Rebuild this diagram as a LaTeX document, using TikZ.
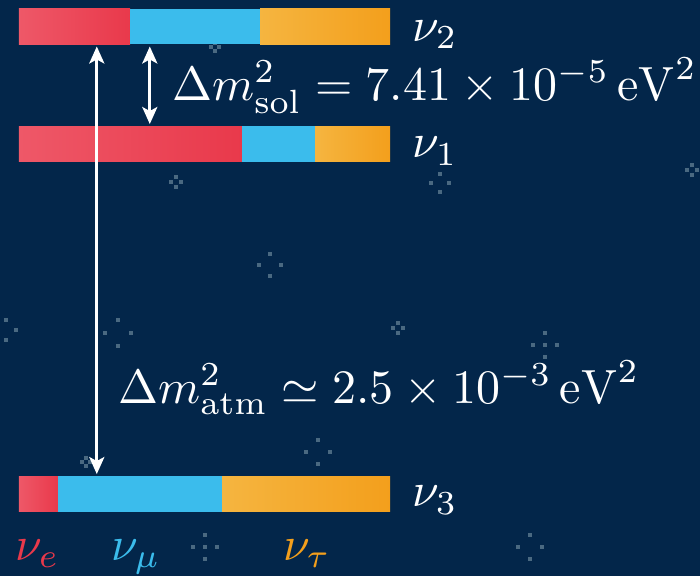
\documentclass[tikz,border=0pt]{standalone}
\usepackage{amsmath}
\usepackage{graphicx}
\usepackage{xcolor}
\usepackage{tikz}
\usetikzlibrary{arrows.meta}
\usetikzlibrary{positioning,calc}

\definecolor{bgnavy}{HTML}{03264A}
\definecolor{nured}{HTML}{E9394B}
\definecolor{nuredlt}{HTML}{EE5868}
\definecolor{nublue}{HTML}{3BBCEC}
\definecolor{nuorange}{HTML}{F39F1C}
\definecolor{nuorangelt}{HTML}{F5B540}
\definecolor{starcol}{HTML}{4A6981}

% faint pixel stars in the background
\newcommand{\twinklestar}[3]{%
  \foreach \dx/\dy in {1/0,-1/0,0/1,0/-1}
    \fill[starcol] ({#1+\dx*#3-2},{-#2+\dy*#3-2}) rectangle ++(4,4);
}
\newcommand{\bigmath}[1]{\scalebox{4.8}{$#1$}}

\begin{document}
\begin{tikzpicture}[x=1pt,y=1pt,
  massbar/.style={rectangle, minimum width=371pt, minimum height=35.5pt, inner sep=0pt},
  statelabel/.style={text=white, anchor=base west, inner sep=0pt},
  flavlabel/.style={anchor=base west, inner sep=0pt},
  splitting/.style={white, line width=3pt, shorten <=2pt, shorten >=2pt,
    {Stealth[length=17pt,width=15pt,inset=4pt]}-{Stealth[length=17pt,width=15pt,inset=4pt]}}
]
\useasboundingbox (0,0) rectangle (700,-576);
\fill[bgnavy] (0,0) rectangle (700,-576);

\twinklestar{176}{182}{5}
\twinklestar{270}{265}{11}
\twinklestar{118}{333}{13}
\twinklestar{398}{328}{5}
\twinklestar{545}{345}{12}
\twinklestar{545}{345}{0}
\twinklestar{318}{452}{12}
\twinklestar{205}{547}{12}
\twinklestar{205}{547}{0}
\twinklestar{530}{547}{12}
\twinklestar{440}{183}{9}
\twinklestar{692}{170}{5}
\twinklestar{86}{462}{4}
\twinklestar{6}{330}{10}
\twinklestar{215}{47}{4}

% mass states with flavour content
\foreach \nm/\yy/\re/\be in {nu2/26.5/130/260, nu1/144/242/315, nu3/494/58/222} {
  \node[massbar] (\nm) at (204.5,-\yy) {};
  \shade[left color=nuredlt, right color=nured] (\nm.north west) rectangle ({\re},{-\yy-17.75});
  \fill[nublue] ({\re},{-\yy+17.75}) rectangle ({\be},{-\yy-17.75});
  \shade[left color=nuorangelt, right color=nuorange] ({\be},{-\yy+17.75}) rectangle (\nm.south east);
}

\node[statelabel] (lab2) at ($(nu2.south east)+(22,3)$) {\bigmath{\nu_2}};
\node[statelabel] (lab1) at ($(nu1.south east)+(22,4)$) {\bigmath{\nu_1}};
\node[statelabel] (lab3) at ($(nu3.south east)+(22,5)$) {\bigmath{\nu_3}};

% splittings
\coordinate (soltop) at ($(nu2.south west)+(131,0)$);
\coordinate (solbot) at ($(nu1.north west)+(131,0)$);
\coordinate (atmtop) at ($(nu2.south west)+(78,0)$);
\coordinate (atmbot) at ($(nu3.north west)+(78,0)$);
\draw[splitting] (soltop) -- (solbot);
\draw[splitting] (atmtop) -- (atmbot);

\node[statelabel] (soltext) at (172,-100) {\bigmath{\Delta m^2_{\text{sol}} = 7.41\times10^{-5}\,\mathrm{eV}^2}};
\node[statelabel] (atmtext) at (118,-403) {\bigmath{\Delta m^2_{\text{atm}} \simeq 2.5\times10^{-3}\,\mathrm{eV}^2}};

\node[flavlabel, text=nured] (flave) at (15,-560) {\bigmath{\nu_e}};
\node[flavlabel, text=nublue] (flavmu) at (111,-560) {\bigmath{\nu_\mu}};
\node[flavlabel, text=nuorange] (flavtau) at (283,-560) {\bigmath{\nu_\tau}};
\end{tikzpicture}
\end{document}
